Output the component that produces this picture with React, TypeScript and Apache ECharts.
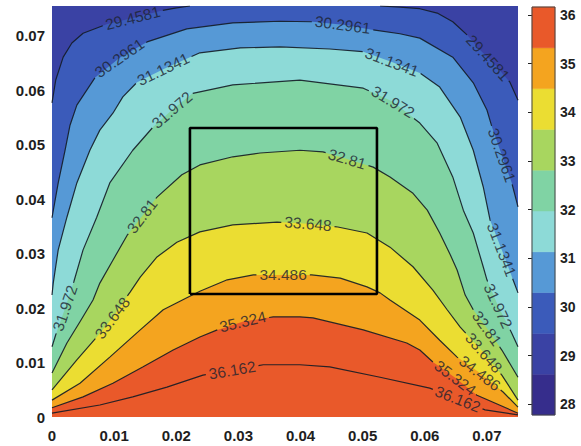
import React, { useEffect, useRef } from "react";
import * as echarts from "echarts";

type P = [number, number];

// ---------- axes ----------
const X_MAX = 0.075;
const Y_MAX = 0.0755;
const TICK_LABELS = ["0", "0.01", "0.02", "0.03", "0.04", "0.05", "0.06", "0.07"];

// ---------- colour bar ----------
const CB_MIN = 27.782;
const CB_MAX = 36.162;
const CB_TICKS = [28, 29, 30, 31, 32, 33, 34, 35, 36];
const BAND_EDGES = [27.782, 28.62, 29.458, 30.296, 31.134, 31.972, 32.81, 33.648, 34.486, 35.324, 36.162];
const BAND_COLORS = [
  "#362d8c",
  "#3a42a4",
  "#3b5bba",
  "#5699d6",
  "#8ddad7",
  "#80d3a4",
  "#a8d65f",
  "#ebdd32",
  "#f4a41f",
  "#e9592a",
];

// ---------- contour levels ----------
const LEVELS = ["29.4581", "30.2961", "31.1341", "31.972", "32.81", "33.648", "34.486", "35.324", "36.162"];

// contour paths, [x, y]
const C_29_L: P[] = [[0, 0.0577], [0.0006, 0.0619], [0.0018, 0.0661], [0.0032, 0.0687], [0.005, 0.0705], [0.0089, 0.0722], [0.013, 0.0733], [0.0174, 0.0746], [0.0198, 0.0751], [0.0222, 0.0755]];
const C_29_R: P[] = [[0.0528, 0.0755], [0.056, 0.0753], [0.0592, 0.075], [0.062, 0.0742], [0.0645, 0.0726], [0.0668, 0.0702], [0.0689, 0.0674], [0.0713, 0.0647], [0.0737, 0.0615], [0.075, 0.0582]];
const C_30: P[] = [[0, 0.0366], [0.001, 0.043], [0.0021, 0.049], [0.0029, 0.0536], [0.004, 0.0573], [0.0069, 0.0623], [0.0109, 0.066], [0.0153, 0.0689], [0.0217, 0.0713], [0.0291, 0.0724], [0.0367, 0.0727], [0.042, 0.0726], [0.0472, 0.072], [0.0517, 0.0711], [0.056, 0.0704], [0.0592, 0.0696], [0.0645, 0.0661], [0.0678, 0.0614], [0.07, 0.0564], [0.0708, 0.0533], [0.0724, 0.0481], [0.074, 0.043], [0.075, 0.0386]];
const C_31: P[] = [[0, 0.0224], [0.0002, 0.0246], [0.001, 0.0307], [0.0024, 0.0367], [0.004, 0.043], [0.0061, 0.049], [0.0077, 0.0527], [0.0098, 0.0558], [0.0114, 0.0588], [0.0137, 0.0615], [0.0179, 0.0639], [0.0238, 0.0669], [0.0303, 0.0678], [0.0367, 0.068], [0.0447, 0.0676], [0.0501, 0.0671], [0.0547, 0.0652], [0.0592, 0.0632], [0.0624, 0.0606], [0.0657, 0.0551], [0.0678, 0.049], [0.0694, 0.0423], [0.0705, 0.0362], [0.0724, 0.0307], [0.0742, 0.0252], [0.075, 0.0228]];
const C_32: P[] = [[0, 0.0129], [0.0006, 0.0151], [0.0021, 0.02], [0.0035, 0.0248], [0.005, 0.0307], [0.0072, 0.0367], [0.0093, 0.043], [0.013, 0.049], [0.0163, 0.0533], [0.0193, 0.0564], [0.0227, 0.0595], [0.0291, 0.061], [0.0399, 0.0619], [0.0501, 0.0604], [0.0549, 0.0579], [0.0592, 0.054], [0.062, 0.0503], [0.0645, 0.0441], [0.0662, 0.038], [0.0678, 0.0338], [0.0694, 0.0276], [0.07, 0.0252], [0.0718, 0.0204], [0.074, 0.0154], [0.075, 0.0129]];
const C_33: P[] = [[0, 0.0081], [0.0024, 0.0136], [0.0045, 0.0175], [0.0066, 0.0215], [0.0077, 0.0246], [0.0098, 0.0288], [0.0121, 0.0334], [0.0145, 0.0369], [0.0169, 0.0404], [0.0209, 0.0445], [0.0238, 0.0463], [0.0291, 0.0478], [0.0335, 0.0485], [0.0399, 0.049], [0.0436, 0.0487], [0.0475, 0.0474], [0.0517, 0.0459], [0.0544, 0.0441], [0.0581, 0.0411], [0.0604, 0.038], [0.0624, 0.0338], [0.0641, 0.0298], [0.0652, 0.027], [0.0665, 0.0224], [0.0678, 0.0197], [0.07, 0.0163], [0.0724, 0.0123], [0.075, 0.0073]];
const C_34: P[] = [[0, 0.005], [0.004, 0.0105], [0.0072, 0.0147], [0.0097, 0.0182], [0.0126, 0.023], [0.0142, 0.0257], [0.0169, 0.0294], [0.0201, 0.0321], [0.0238, 0.034], [0.0291, 0.0353], [0.0362, 0.0358], [0.0412, 0.0355], [0.046, 0.0349], [0.0507, 0.0338], [0.0544, 0.0312], [0.0581, 0.0276], [0.0613, 0.0233], [0.0636, 0.0197], [0.0657, 0.0165], [0.0695, 0.0118], [0.0724, 0.0077], [0.075, 0.0031]];
const C_35: P[] = [[0, 0.0031], [0.0045, 0.0062], [0.0093, 0.011], [0.0142, 0.016], [0.0179, 0.0197], [0.0217, 0.0219], [0.0238, 0.0231], [0.0282, 0.0252], [0.0324, 0.0261], [0.0372, 0.0261], [0.0418, 0.0261], [0.0464, 0.0255], [0.0507, 0.0239], [0.0528, 0.0228], [0.0544, 0.0215], [0.0592, 0.0178], [0.0624, 0.0141], [0.0652, 0.011], [0.0686, 0.0083], [0.0726, 0.0046], [0.075, 0.0018]];
const C_36: P[] = [[0, 0.0017], [0.005, 0.0037], [0.0098, 0.0062], [0.0146, 0.0092], [0.0195, 0.0123], [0.0238, 0.0147], [0.0266, 0.016], [0.0307, 0.0175], [0.0356, 0.0184], [0.0399, 0.0184], [0.042, 0.0182], [0.0501, 0.016], [0.0571, 0.0136], [0.0592, 0.0123], [0.0613, 0.0101], [0.0649, 0.0072], [0.0684, 0.004], [0.075, 0.0007]];
const C_37: P[] = [[0, 0.0007], [0.0077, 0.0022], [0.013, 0.0037], [0.0185, 0.0055], [0.0243, 0.0077], [0.029, 0.0086], [0.034, 0.0096], [0.0399, 0.0096], [0.0447, 0.0092], [0.0528, 0.0073], [0.0608, 0.0053], [0.0653, 0.0033], [0.0697, 0.0013], [0.075, 0.0004]];

// inline label positions, [x, y]
const L_29: P[] = [[0.013, 0.0733], [0.0702, 0.066]];
const L_30: P[] = [[0.0111, 0.0656], [0.0468, 0.0722], [0.0724, 0.0481]];
const L_31: P[] = [[0.0179, 0.0639], [0.0547, 0.0652], [0.0723, 0.0307]];
const L_32: P[] = [[0.0021, 0.02], [0.0193, 0.0564], [0.0549, 0.0579], [0.0718, 0.0204]];
const L_33: P[] = [[0.0145, 0.0369], [0.0475, 0.0474], [0.07, 0.0163]];
const L_34: P[] = [[0.0097, 0.0182], [0.0412, 0.0355], [0.0695, 0.0118]];
const L_35: P[] = [[0.0372, 0.0261], [0.0689, 0.0081]];
const L_36: P[] = [[0.0307, 0.0175], [0.0649, 0.0072]];
const L_37: P[] = [[0.029, 0.0086], [0.0653, 0.0033]];

// highlighted window
const BOX: P[] = [[0.0222, 0.0226], [0.0523, 0.0226], [0.0523, 0.0531], [0.0222, 0.0531], [0.0222, 0.0226]];

const CONTOURS: { pieces: P[][]; labels: P[] }[] = [
  { pieces: [C_29_L, C_29_R], labels: L_29 },
  { pieces: [C_30], labels: L_30 },
  { pieces: [C_31], labels: L_31 },
  { pieces: [C_32], labels: L_32 },
  { pieces: [C_33], labels: L_33 },
  { pieces: [C_34], labels: L_34 },
  { pieces: [C_35], labels: L_35 },
  { pieces: [C_36], labels: L_36 },
  { pieces: [C_37], labels: L_37 },
];

// ---------- layout ----------
const FONT = '"Liberation Sans", Arial, Helvetica, sans-serif';
const GRID = { left: 52, top: 6, width: 466, height: 411 };
const LABEL_FS = 15.5;

const toPx = (p: P): P => [GRID.left + (p[0] / X_MAX) * GRID.width, GRID.top + GRID.height - (p[1] / Y_MAX) * GRID.height];
const fromPx = (q: P): P => [((q[0] - GRID.left) / GRID.width) * X_MAX, ((GRID.top + GRID.height - q[1]) / GRID.height) * Y_MAX];

function textW(s: string, fs: number) {
  let w = 0;
  for (const c of s) w += c === "." ? 0.278 * fs : 0.556 * fs;
  return w;
}

function pointAt(pp: P[], cc: number[], s: number): P {
  if (s <= 0) return pp[0];
  for (let i = 0; i < pp.length - 1; i++) {
    if (s <= cc[i + 1]) {
      const L = cc[i + 1] - cc[i];
      const t = L > 0 ? (s - cc[i]) / L : 0;
      return [pp[i][0] + t * (pp[i + 1][0] - pp[i][0]), pp[i][1] + t * (pp[i + 1][1] - pp[i][1])];
    }
  }
  return pp[pp.length - 1];
}

function buildContour(pieces: P[][], labels: P[], text: string) {
  const pxPieces = pieces.map((pc) => pc.map(toPx));
  const cums = pxPieces.map((pp) => {
    const c = [0];
    for (let i = 1; i < pp.length; i++) c.push(c[i - 1] + Math.hypot(pp[i][0] - pp[i - 1][0], pp[i][1] - pp[i - 1][1]));
    return c;
  });
  const gaps: [number, number][][] = pieces.map(() => []);
  const marks: { value: P; rot: number }[] = [];
  const half = textW(text, LABEL_FS) / 2 + 3;
  for (const L of labels) {
    const lp = toPx(L);
    let best = { d: Infinity, k: 0, s: 0 };
    pxPieces.forEach((pp, k) => {
      for (let i = 0; i < pp.length - 1; i++) {
        const a = pp[i], b = pp[i + 1];
        const dx = b[0] - a[0], dy = b[1] - a[1];
        const len2 = dx * dx + dy * dy;
        let t = len2 > 0 ? ((lp[0] - a[0]) * dx + (lp[1] - a[1]) * dy) / len2 : 0;
        t = Math.max(0, Math.min(1, t));
        const q: P = [a[0] + t * dx, a[1] + t * dy];
        const d = Math.hypot(q[0] - lp[0], q[1] - lp[1]);
        if (d < best.d) best = { d, k, s: cums[k][i] + t * Math.sqrt(len2) };
      }
    });
    const pp = pxPieces[best.k], cc = cums[best.k];
    const total = cc[cc.length - 1];
    gaps[best.k].push([best.s - half, best.s + half]);
    const A = pointAt(pp, cc, Math.max(best.s - half, 0));
    const B = pointAt(pp, cc, Math.min(best.s + half, total));
    const C = pointAt(pp, cc, best.s);
    let ang = (Math.atan2(-(B[1] - A[1]), B[0] - A[0]) * 180) / Math.PI;
    if (ang > 90) ang -= 180;
    if (ang < -90) ang += 180;
    marks.push({ value: fromPx(C), rot: ang });
  }
  const segments: P[][] = [];
  pxPieces.forEach((pp, k) => {
    const cc = cums[k];
    const total = cc[cc.length - 1];
    const gs = gaps[k].slice().sort((a, b) => a[0] - b[0]);
    let start = 0;
    const keep: [number, number][] = [];
    for (const g of gs) {
      if (g[0] > start) keep.push([start, g[0]]);
      start = Math.max(start, g[1]);
    }
    if (start < total) keep.push([start, total]);
    for (const [a, b] of keep) {
      const seg: P[] = [pointAt(pp, cc, a)];
      for (let i = 0; i < pp.length; i++) if (cc[i] > a && cc[i] < b) seg.push(pp[i]);
      seg.push(pointAt(pp, cc, b));
      segments.push(seg.map(fromPx));
    }
  });
  return { segments, marks };
}

function tickFmt(v: number) {
  const k = Math.round(v / 0.01);
  if (Math.abs(v - k * 0.01) > 1e-7) return "";
  return TICK_LABELS[k] ?? "";
}

export default function App() {
  const ref = useRef<HTMLDivElement>(null);
  useEffect(() => {
    if (!ref.current) return;
    const chart = echarts.init(ref.current, undefined, { renderer: "svg" });

    const series: any[] = [];
    // filled bands
    CONTOURS.forEach((c, k) => {
      series.push({
        type: "line",
        xAxisIndex: 0,
        yAxisIndex: 0,
        data: c.pieces.flat(),
        symbol: "none",
        silent: true,
        z: 1,
        lineStyle: { width: 0, opacity: 0 },
        areaStyle: { color: BAND_COLORS[Math.min(k + 2, BAND_COLORS.length - 1)], opacity: 1, origin: "start" },
      });
    });
    // contour lines + labels
    const labelData: any[] = [];
    CONTOURS.forEach((c, k) => {
      const { segments, marks } = buildContour(c.pieces, c.labels, LEVELS[k]);
      segments.forEach((seg) =>
        series.push({
          type: "line",
          xAxisIndex: 0,
          yAxisIndex: 0,
          data: seg,
          symbol: "none",
          silent: true,
          z: 3,
          lineStyle: { color: "#141c26", width: 1.2, opacity: 0.9 },
        })
      );
      marks.forEach((m) => labelData.push({ name: LEVELS[k], value: m.value, label: { rotate: m.rot } }));
    });
    series.push({
      type: "scatter",
      xAxisIndex: 0,
      yAxisIndex: 0,
      data: labelData,
      symbolSize: 1,
      itemStyle: { color: "rgba(0,0,0,0)" },
      silent: true,
      z: 4,
      label: {
        show: true,
        position: "inside",
        formatter: "{b}",
        fontSize: LABEL_FS,
        fontFamily: FONT,
        color: "#1c2230",
      },
    });
    // box
    series.push({
      type: "line",
      xAxisIndex: 0,
      yAxisIndex: 0,
      data: BOX,
      symbol: "none",
      silent: true,
      z: 5,
      lineStyle: { color: "#000", width: 2.6 },
    });
    // colour bar
    series.push({
      type: "custom",
      xAxisIndex: 1,
      yAxisIndex: 1,
      coordinateSystem: "cartesian2d",
      silent: true,
      z: 1,
      data: BAND_EDGES.slice(0, -1).map((lo, i) => [0, lo, BAND_EDGES[i + 1], i]),
      renderItem: (_p: any, api: any) => {
        const lo = api.value(1), hi = api.value(2), i = api.value(3);
        const p1 = api.coord([0, hi]);
        const p2 = api.coord([1, lo]);
        return {
          type: "rect",
          shape: { x: p1[0], y: p1[1], width: p2[0] - p1[0], height: p2[1] - p1[1] },
          style: { fill: BAND_COLORS[i], stroke: BAND_COLORS[i], lineWidth: 0.5 },
        };
      },
    });
    series.push({
      type: "custom",
      xAxisIndex: 1,
      yAxisIndex: 1,
      coordinateSystem: "cartesian2d",
      silent: true,
      z: 2,
      data: [[0, CB_MIN, CB_MAX]],
      renderItem: (_p: any, api: any) => {
        const p1 = api.coord([0, api.value(2)]);
        const p2 = api.coord([1, api.value(1)]);
        return {
          type: "rect",
          shape: { x: p1[0], y: p1[1], width: p2[0] - p1[0], height: p2[1] - p1[1] },
          style: { fill: "none", stroke: "#444", lineWidth: 1 },
        };
      },
    });

    const axisLabelBase = {
      fontSize: 15,
      fontWeight: "bold" as const,
      color: "#1e1e1e",
      fontFamily: FONT,
    };

    chart.setOption({
      animation: false,
      backgroundColor: "#ffffff",
      grid: [
        { ...GRID, show: true, backgroundColor: BAND_COLORS[1], borderWidth: 0 },
        { left: 532, top: 7, width: 23, height: 408, show: false },
      ],
      xAxis: [
        {
          gridIndex: 0,
          type: "value",
          min: 0,
          max: X_MAX,
          interval: 0.01,
          axisLine: { show: false },
          axisTick: { show: false },
          splitLine: { show: false },
          axisLabel: { ...axisLabelBase, margin: 11, formatter: tickFmt, showMaxLabel: false },
        },
        { gridIndex: 1, type: "value", min: 0, max: 1, show: false },
      ],
      yAxis: [
        {
          gridIndex: 0,
          type: "value",
          min: 0,
          max: Y_MAX,
          interval: 0.01,
          axisLine: { show: false },
          axisTick: { show: false },
          splitLine: { show: false },
          axisLabel: { ...axisLabelBase, margin: 7, formatter: tickFmt, showMaxLabel: false },
        },
        {
          gridIndex: 1,
          type: "value",
          min: CB_MIN,
          max: CB_MAX,
          position: "right",
          axisLine: { show: false },
          splitLine: { show: false },
          axisTick: { show: true, inside: true, length: 4, lineStyle: { color: "#222" }, customValues: CB_TICKS },
          axisLabel: {
            ...axisLabelBase,
            fontSize: 14,
            margin: 5,
            customValues: CB_TICKS,
            formatter: (v: number) => String(Math.round(v)),
          },
        },
      ],
      series,
    });
    return () => chart.dispose();
  }, []);
  return <div ref={ref} style={{ position: "absolute", left: 0, top: 0, width: 581, height: 446, background: "#fff" }} />;
}
